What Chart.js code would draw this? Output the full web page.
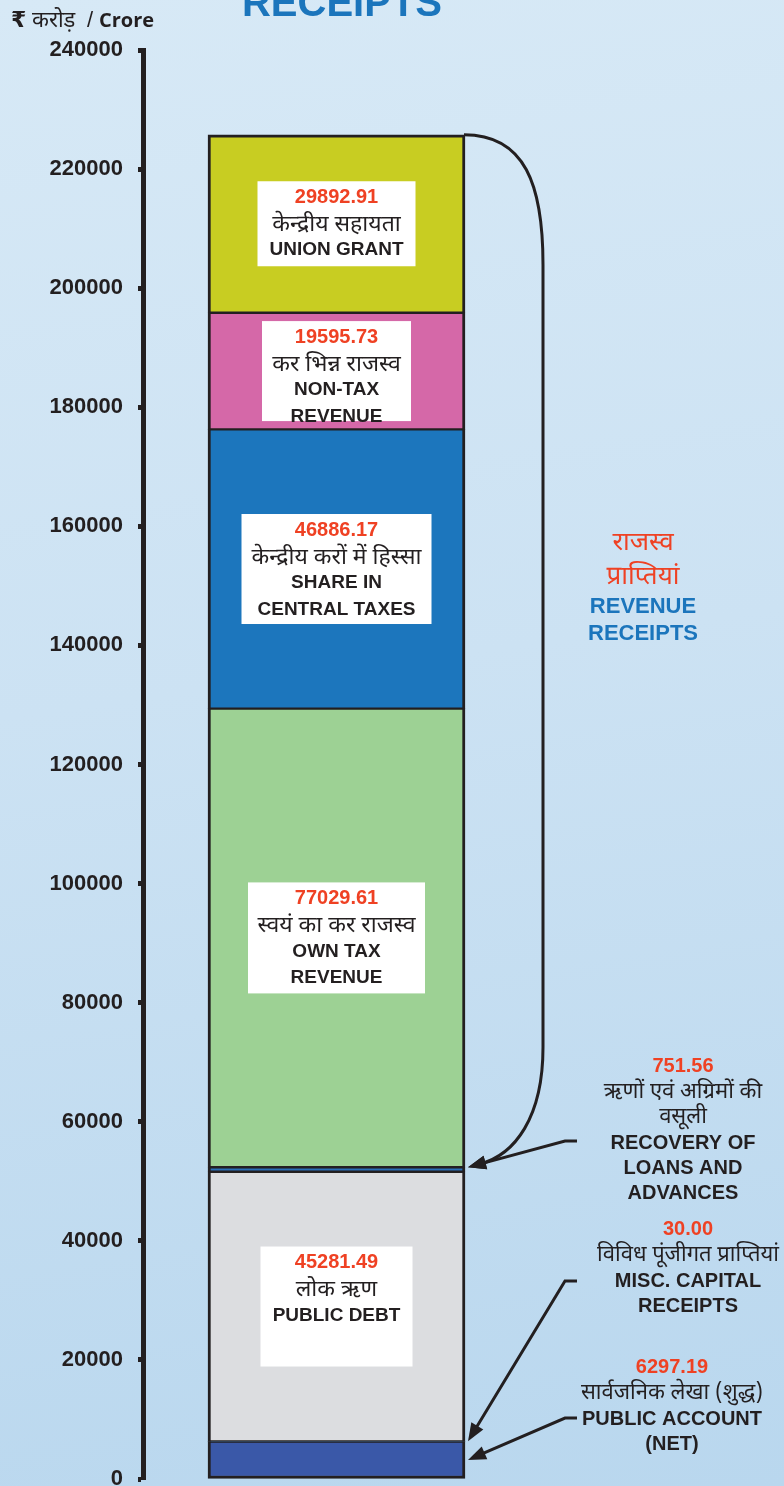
<!DOCTYPE html>
<html>
<head>
<meta charset="utf-8">
<script src="https://cdn.jsdelivr.net/npm/chart.js@4"></script>
<style>
  html, body { margin: 0; padding: 0; }
  body {
    width: 784px; height: 1486px; overflow: hidden;
    background: linear-gradient(172deg, #d7e9f6 0%, #cce2f3 45%, #b9d7ee 100%);
  }
  canvas { display: block; }
</style>
</head>
<body>
<canvas id="receiptChart" width="784" height="1486"></canvas>
<script>
// ---- data (bottom of the stack first) ----
const categories = ['RECEIPTS'];
const seriesValues = [6297.19, 30.00, 45281.49, 751.56, 77029.61, 46886.17, 19595.73, 29892.91];
const seriesHindi = [
  ['सार्वजनिक लेखा (शुद्ध)'],
  ['विविध पूंजीगत प्राप्तियां'],
  ['लोक ऋण'],
  ['ऋणों एवं अग्रिमों की', 'वसूली'],
  ['स्वयं का कर राजस्व'],
  ['केन्द्रीय करों में हिस्सा'],
  ['कर भिन्न राजस्व'],
  ['केन्द्रीय सहायता']
];
const seriesEnglish = [
  ['PUBLIC ACCOUNT', '(NET)'],
  ['MISC. CAPITAL', 'RECEIPTS'],
  ['PUBLIC DEBT'],
  ['RECOVERY OF', 'LOANS AND', 'ADVANCES'],
  ['OWN TAX', 'REVENUE'],
  ['SHARE IN', 'CENTRAL TAXES'],
  ['NON-TAX', 'REVENUE'],
  ['UNION GRANT']
];
const yTicks = [0, 20000, 40000, 60000, 80000, 100000, 120000, 140000, 160000, 180000, 200000, 220000, 240000];

// ---- styles ----
const seriesColors = ['#3a58a8', '#2a6fb6', '#dcdde0', '#2a6fb6', '#9dd194', '#1c76bd', '#d568a8', '#c8cd22'];
const DARK = '#231f20';
const RED = '#ef4123';
const BLUE = '#1b75bc';
const HINDI = '"Noto Sans Devanagari", "Noto Sans", sans-serif';
const LATIN = '"Liberation Sans", Arial, sans-serif';

// white boxes inside the bar
const boxSpec = {
  2: { w: 152, h: 120 },
  4: { w: 177, h: 111 },
  5: { w: 190, h: 110 },
  6: { w: 149, h: 100 },
  7: { w: 158, h: 85 }
};
// notes on the right with arrows
const sideNotes = {
  3: { x: 683, y: 1066, from: [577, 1141], tip: 'top' },
  1: { x: 688, y: 1229, from: [577, 1281], tip: 'top' },
  0: { x: 672, y: 1367, from: [577, 1418], tip: 'mid' }
};

function arrowHead(ctx, fx, fy, tx, ty) {
  const a = Math.atan2(ty - fy, tx - fx);
  const len = 18, half = 7;
  ctx.beginPath();
  ctx.moveTo(tx, ty);
  ctx.lineTo(tx - len * Math.cos(a) + half * Math.sin(a), ty - len * Math.sin(a) - half * Math.cos(a));
  ctx.lineTo(tx - len * Math.cos(a) - half * Math.sin(a), ty - len * Math.sin(a) + half * Math.cos(a));
  ctx.closePath();
  ctx.fill();
}

function arrowLine(ctx, fx, fy, tx, ty) {
  const d = Math.hypot(tx - fx, ty - fy);
  const ex = tx - (tx - fx) * 12 / d;
  const ey = ty - (ty - fy) * 12 / d;
  ctx.beginPath();
  ctx.moveTo(fx + 12, fy);
  ctx.lineTo(fx, fy);
  ctx.lineTo(ex, ey);
  ctx.stroke();
  arrowHead(ctx, fx, fy, tx, ty);
}

const annotations = {
  id: 'annotations',
  afterDatasetsDraw(chart) {
    const ctx = chart.ctx;
    ctx.save();
    ctx.textAlign = 'center';
    ctx.textBaseline = 'middle';

    // boxes inside segments
    Object.keys(boxSpec).forEach(k => {
      const i = +k;
      const el = chart.getDatasetMeta(i).data[0];
      const spec = boxSpec[i];
      const cy = (el.y + el.base) / 2;
      const top = cy - spec.h / 2;
      ctx.fillStyle = '#ffffff';
      ctx.fillRect(el.x - spec.w / 2, top, spec.w, spec.h);
      let y = top + 16;
      ctx.fillStyle = RED;
      ctx.font = 'bold 20px ' + LATIN;
      ctx.fillText(seriesValues[i].toFixed(2), el.x, y);
      ctx.fillStyle = DARK;
      seriesHindi[i].forEach(t => {
        y += 26.5;
        ctx.font = '23px ' + HINDI;
        ctx.fillText(t, el.x, y + 3);
      });
      seriesEnglish[i].forEach(t => {
        y += 26.5;
        ctx.font = 'bold 19px ' + LATIN;
        ctx.fillText(t, el.x, y);
      });
    });

    // notes to the right
    ctx.strokeStyle = DARK;
    ctx.fillStyle = DARK;
    ctx.lineWidth = 3;
    Object.keys(sideNotes).forEach(k => {
      const i = +k;
      const n = sideNotes[i];
      const el = chart.getDatasetMeta(i).data[0];
      const tx = el.x + el.width / 2 + 3;
      const ty = n.tip === 'mid' ? (el.y + el.base) / 2 : el.y;
      ctx.strokeStyle = DARK;
      ctx.fillStyle = DARK;
      arrowLine(ctx, n.from[0] - 12, n.from[1], tx, ty);

      let y = n.y;
      ctx.fillStyle = RED;
      ctx.font = 'bold 20px ' + LATIN;
      ctx.fillText(seriesValues[i].toFixed(2), n.x, y);
      ctx.fillStyle = DARK;
      seriesHindi[i].forEach(t => {
        y += 25;
        ctx.font = '22px ' + HINDI;
        ctx.fillText(t, n.x, y + 3);
      });
      y += 2;
      seriesEnglish[i].forEach(t => {
        y += 25;
        ctx.font = 'bold 20px ' + LATIN;
        ctx.fillText(t, n.x, y);
      });
    });

    // revenue receipts bracket
    const topEl = chart.getDatasetMeta(7).data[0];
    const recEl = chart.getDatasetMeta(3).data[0];
    const bx = topEl.x + topEl.width / 2;
    const y0 = topEl.y, y1 = recEl.y;
    ctx.strokeStyle = DARK;
    ctx.lineWidth = 3;
    ctx.beginPath();
    ctx.moveTo(bx - 1, y0);
    ctx.bezierCurveTo(bx + 60, y0, bx + 78, y0 + 50, bx + 78, y0 + 130);
    ctx.lineTo(bx + 78, y1 - 120);
    ctx.bezierCurveTo(bx + 78, y1 - 50, bx + 50, y1 - 12, bx + 14, y1 - 3);
    ctx.stroke();
    ctx.fillStyle = DARK;
    arrowHead(ctx, bx + 40, y1 - 10, bx + 3, y1);

    ctx.fillStyle = RED;
    ctx.font = '26px ' + HINDI;
    ctx.fillText('राजस्व', 643, 545);
    ctx.fillText('प्राप्तियां', 643, 579);
    ctx.fillStyle = BLUE;
    ctx.font = 'bold 22px ' + LATIN;
    ctx.fillText('REVENUE', 643, 607);
    ctx.fillText('RECEIPTS', 643, 634);

    // title (cut at the top edge) and unit
    ctx.font = 'bold 40px ' + LATIN;
    ctx.textBaseline = 'alphabetic';
    ctx.fillText(categories[0], 342, 16);

    ctx.textAlign = 'left';
    ctx.fillStyle = DARK;
    ctx.font = 'bold 22px "DejaVu Sans", sans-serif';
    ctx.fillText('₹', 11, 27);
    ctx.font = '22px ' + HINDI;
    ctx.fillText('करोड़', 32, 27);
    ctx.font = '22px ' + LATIN;
    ctx.fillText('/', 87, 27);
    ctx.font = 'bold 20px "Open Sans", sans-serif';
    ctx.fillText('Crore', 99, 27);
    ctx.restore();
  }
};

const lastIndex = seriesValues.length - 1;
const datasets = seriesValues.map((v, i) => ({
  label: seriesEnglish[i].join(' '),
  data: [v],
  backgroundColor: seriesColors[i],
  borderColor: DARK,
  borderWidth: { left: 3, right: 3, top: i === lastIndex ? 3 : 1.5, bottom: i === 0 ? 3 : 1.5 },
  borderSkipped: false,
  barThickness: 257
}));

new Chart(document.getElementById('receiptChart'), {
  type: 'bar',
  data: { labels: categories, datasets: datasets },
  options: {
    responsive: false,
    animation: false,
    layout: { padding: { top: 50, bottom: 7, left: 0, right: 254 } },
    plugins: {
      legend: { display: false },
      tooltip: { enabled: false }
    },
    scales: {
      x: { stacked: true, display: false },
      y: {
        stacked: true,
        min: 0,
        max: 240000,
        afterFit: s => { s.width = 143; s.paddingTop = 0; s.paddingBottom = 0; },
        afterBuildTicks: s => { s.ticks = yTicks.map(v => ({ value: v })); },
        ticks: {
          callback: v => String(v),
          color: DARK,
          padding: 15,
          font: { family: LATIN, size: 22, weight: 'bold' }
        },
        grid: {
          drawOnChartArea: false,
          drawTicks: true,
          tickLength: 5,
          tickWidth: 5,
          tickColor: DARK
        },
        border: { display: true, color: DARK, width: 5 }
      }
    }
  },
  plugins: [annotations]
});
</script>
</body>
</html>
